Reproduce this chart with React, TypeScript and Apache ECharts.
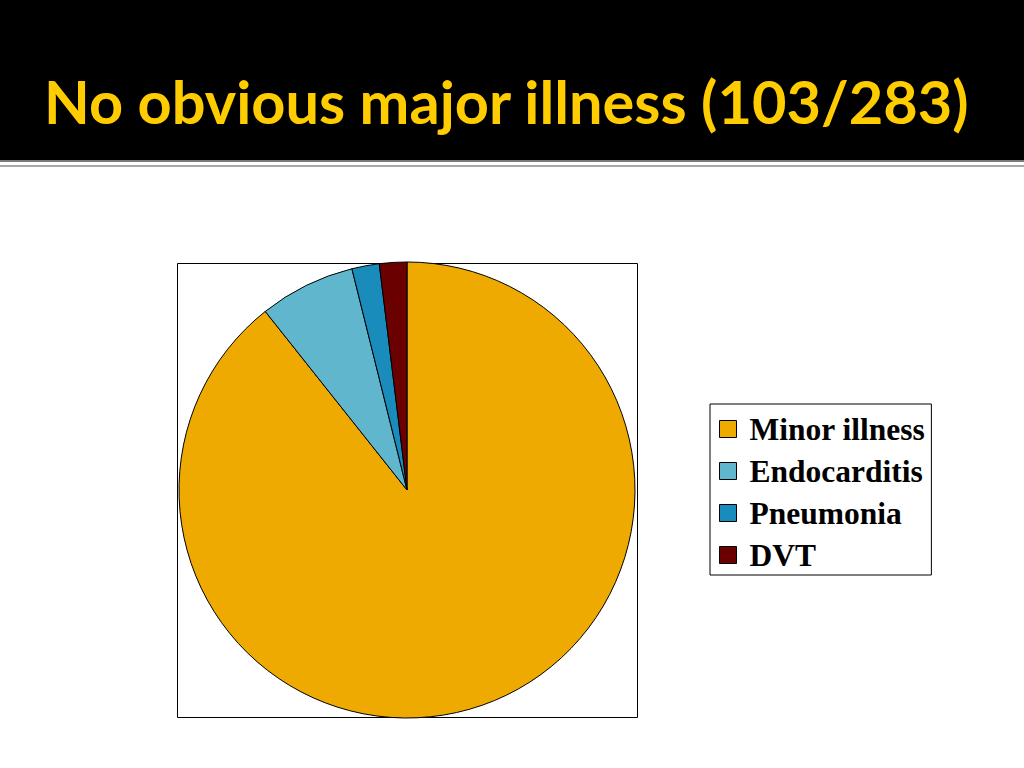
import React, { useEffect, useRef } from "react";
import * as echarts from "echarts";

const categories = ["Minor illness", "Endocarditis", "Pneumonia", "DVT"];
const values = [92, 7, 2, 2];
const colors = ["#EEAA00", "#60B6CC", "#1A8CBC", "#6B0000"];
const titleText = "No obvious major illness (103/283)";

export default function App() {
  const ref = useRef<HTMLDivElement>(null);
  useEffect(() => {
    if (!ref.current) return;
    const chart = echarts.init(ref.current, undefined, { renderer: "svg" });
    chart.setOption({
      animation: false,
      backgroundColor: "#ffffff",
      title: {
        text: titleText,
        left: 44,
        top: 71,
        padding: 0,
        textStyle: {
          color: "#FFCC00",
          fontFamily: "Lato",
          fontWeight: "bold",
          fontSize: 59.5,
        },
      },
      graphic: [
        { type: "rect", z: -1, shape: { x: 0, y: 0, width: 1024, height: 160 }, style: { fill: "#000000" } },
        { type: "rect", z: -1, shape: { x: 0, y: 160, width: 1024, height: 2 }, style: { fill: "#7a7a7a" } },
        { type: "rect", z: -1, shape: { x: 0, y: 165, width: 1024, height: 2 }, style: { fill: "#a8a8a8" } },
        {
          type: "rect",
          z: -1,
          shape: { x: 177.5, y: 263.5, width: 460, height: 454 },
          style: { fill: "#ffffff", stroke: "#000000", lineWidth: 1 },
        },
      ],
      legend: {
        orient: "vertical",
        left: 710,
        top: 404,
        padding: [9, 6, 4, 9],
        itemWidth: 17,
        itemHeight: 17,
        itemGap: 10,
        borderColor: "#000000",
        borderWidth: 1,
        icon: "rect",
        data: categories,
        itemStyle: { borderColor: "#000000", borderWidth: 1 },
        textStyle: {
          fontFamily: "Liberation Serif",
          fontWeight: "bold",
          fontSize: 31.5,
          lineHeight: 30,
          color: "#000000",
          padding: [0, 0, 0, 8],
        },
      },
      series: [
        {
          type: "pie",
          center: [407, 490],
          radius: 228,
          startAngle: 90,
          clockwise: true,
          label: { show: false },
          labelLine: { show: false },
          emphasis: { disabled: true },
          itemStyle: { borderColor: "#000000", borderWidth: 1 },
          data: categories.map((name, i) => ({
            name,
            value: values[i],
            itemStyle: { color: colors[i] },
          })),
        },
      ],
    });
    return () => chart.dispose();
  }, []);
  return (
    <div
      ref={ref}
      style={{ position: "fixed", left: 0, top: 0, width: 1024, height: 768 }}
    />
  );
}
